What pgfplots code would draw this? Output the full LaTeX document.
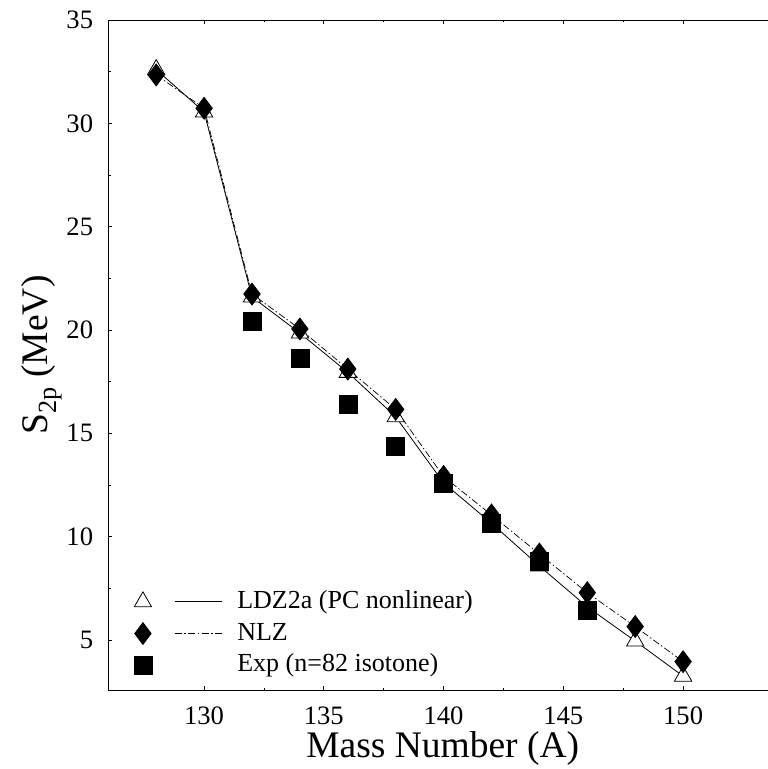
\documentclass[border=0pt]{standalone}
\usepackage{fontspec}
\setmainfont{Liberation Serif}
\usepackage{pgfplots}
\pgfplotsset{compat=1.18}
\pgfplotsset{
  lineleg/.style={legend image code/.code={\draw[##1,mark=none] (32pt,0pt) -- (79pt,0pt); \draw[##1] plot coordinates {(0pt,0pt)};}},
  markleg/.style={legend image code/.code={\path (79pt,0pt); \draw[##1] plot coordinates {(0pt,0pt)};}},
}
\begin{document}
\begin{tikzpicture}
\begin{axis}[
  scale only axis, width=659.7pt, height=670pt,
  xmin=126, xmax=153.545, ymin=2.58, ymax=35,
  axis x line*=box, axis y line*=left,
  axis line style={line width=0.9pt, -},
  xtick={130,135,...,150}, ytick={5,10,...,35},
  minor x tick num=1, minor y tick num=1,
  tick align=inside, major tick length=4pt, minor tick length=2.5pt,
  tick style={line width=0.8pt, black},
  /pgf/number format/assume math mode=true,
  ticklabel style={font=\fontsize{26.6}{30}\selectfont},
  xticklabel style={inner sep=0pt, yshift=-16.7pt},
  yticklabel style={inner sep=0pt, xshift=-15pt},
  xlabel={Mass Number (A)},
  ylabel={S\textsubscript{2p} (MeV)},
  label style={font=\fontsize{37.5}{42}\selectfont, inner sep=0pt},
  xlabel style={at={(axis description cs:0.507,-0.101)}, anchor=base},
  ylabel style={at={(axis description cs:-0.0925,0.5)}, anchor=base},
  legend cell align=left,
  legend style={draw=none, fill=none, at={(axis description cs:0.034,0.158)}, anchor=north west,
    font=\fontsize{26}{30}\selectfont, row sep=0.7pt, column sep=15pt,
    nodes={text height=19pt, text depth=6pt, inner ysep=3pt, inner xsep=0pt}},
]
\addplot[black, line width=0.8pt, mark=triangle*, mark size=10pt, mark options={fill=white, solid, line width=0.8pt}, lineleg]
  coordinates {(128,32.6) (130,30.55) (132,21.6) (134,19.85) (136,17.95) (138,15.8) (140,12.6) (142,10.65) (144,8.58) (146,6.6) (148,4.95) (150,3.25)};
\addlegendentry{LDZ2a (PC nonlinear)}
\addplot[black, line width=0.7pt, dash pattern=on 7pt off 2.5pt on 1.5pt off 2.5pt, mark=diamond*, mark size=11pt, mark options={fill=black, solid}, lineleg]
  coordinates {(128,32.34) (130,30.73) (132,21.74) (134,20.05) (136,18.11) (138,16.16) (140,12.91) (142,11.05) (144,9.16) (146,7.29) (148,5.65) (150,3.95)};
\addlegendentry{NLZ}
\addplot[black, only marks, mark=square*, mark size=9pt, mark options={fill=black}, markleg]
  coordinates {(132,20.44) (134,18.63) (136,16.4) (138,14.4) (140,12.58) (142,10.65) (144,8.79) (146,6.45)};
\addlegendentry{Exp (n=82 isotone)}
\end{axis}
\pgfresetboundingbox
\path[use as bounding box] (-108.3pt,-79pt) rectangle (659.7pt,690pt);
\end{tikzpicture}
\end{document}
